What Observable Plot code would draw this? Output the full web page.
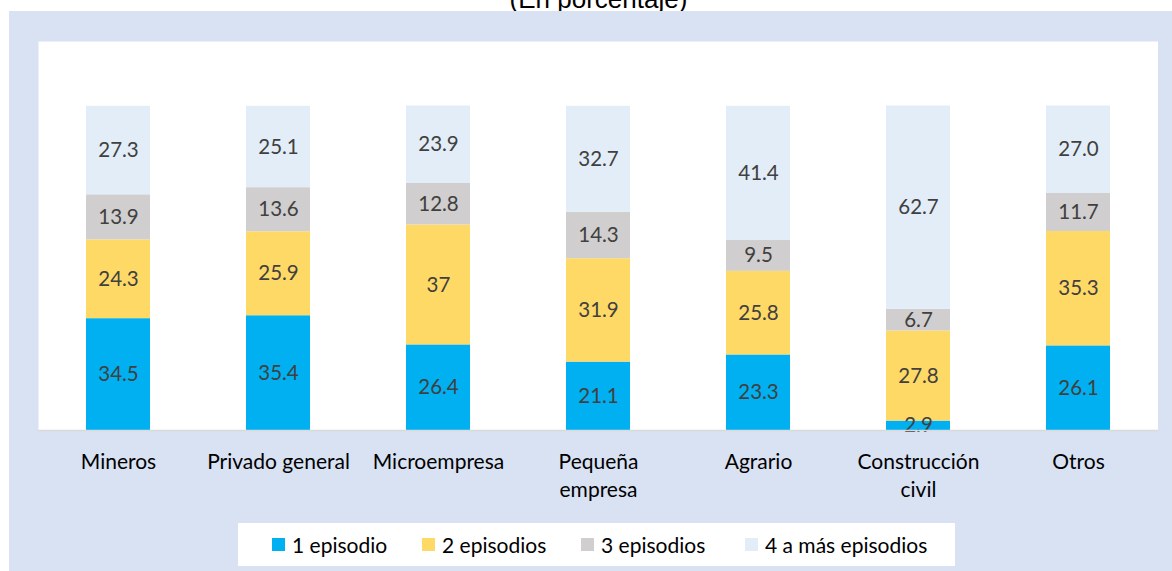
<!DOCTYPE html>
<html>
<head>
<meta charset="utf-8">
<script src="https://cdn.jsdelivr.net/npm/d3@7"></script>
<script src="https://cdn.jsdelivr.net/npm/@observablehq/plot@0.6"></script>
<style>
  html, body { margin: 0; padding: 0; background: #ffffff; }
  #wrap { position: relative; width: 1172px; height: 571px; overflow: hidden; background: #ffffff; font-family: Lato, "Noto Sans", sans-serif; }
  #title { position: absolute; left: 0; width: 1197px; top: -16px; line-height: 30px; text-align: center; font-family: "Liberation Sans", Arial, sans-serif; font-size: 26px; color: #000; }
  #band { position: absolute; left: 9px; top: 11px; width: 1163px; height: 560px; background: #D9E2F3; }
  #chart { position: absolute; left: 38px; top: 41px; }
  #legend { position: absolute; left: 238px; top: 523px; width: 717px; height: 43px; background: #ffffff; font-size: 21px; color: #000; }
  .item { position: absolute; top: 0; height: 43px; display: flex; align-items: center; }
  .sw { width: 13px; height: 13px; margin-right: 7px; }
</style>
</head>
<body>
<div id="wrap">
  <div id="title">(En porcentaje)</div>
  <div id="band"></div>
  <div id="chart"></div>
  <div id="legend"></div>
</div>
<script>
const categories = ["Mineros", "Privado general", "Microempresa", "Pequeña empresa", "Agrario", "Construcción civil", "Otros"];
const tickLabels = ["Mineros", "Privado general", "Microempresa", "Pequeña\nempresa", "Agrario", "Construcción\ncivil", "Otros"];
const series = ["1 episodio", "2 episodios", "3 episodios", "4 a más episodios"];
const colors = ["#00B0F0", "#FFD966", "#D0CECE", "#E2EDF8"];
const episodio1 = ["34.5", "35.4", "26.4", "21.1", "23.3", "2.9", "26.1"];
const episodios2 = ["24.3", "25.9", "37", "31.9", "25.8", "27.8", "35.3"];
const episodios3 = ["13.9", "13.6", "12.8", "14.3", "9.5", "6.7", "11.7"];
const episodios4 = ["27.3", "25.1", "23.9", "32.7", "41.4", "62.7", "27.0"];
const yDomain = [0, 120];

const seriesValues = [episodio1, episodios2, episodios3, episodios4];
const data = [];
seriesValues.forEach((vals, si) => {
  vals.forEach((v, ci) => {
    data.push({ cat: categories[ci], serie: series[si], value: +v, label: v });
  });
});
const tickMap = new Map(categories.map((c, i) => [c, tickLabels[i]]));

const plot = Plot.plot({
  width: 1120,
  height: 475,
  marginTop: 0,
  marginLeft: 0,
  marginRight: 0,
  marginBottom: 86,
  style: { background: "transparent", fontFamily: "Lato, 'Noto Sans', sans-serif" },
  x: { domain: categories, paddingInner: 0.6, paddingOuter: 0.3, label: null },
  y: { domain: yDomain, axis: null },
  color: { domain: series, range: colors },
  marks: [
    Plot.frame({ fill: "#ffffff", stroke: null }),
    Plot.barY(data, Plot.stackY({ x: "cat", y: "value", z: "serie", fill: "serie", order: series })),
    Plot.textY(data, Plot.stackY({ x: "cat", y: "value", z: "serie", order: series, text: "label", fill: "#404040", fontSize: 20.5 })),
    Plot.ruleY([0], { stroke: "#D9D9D9", strokeWidth: 1.5 }),
    Plot.axisX({ tickSize: 0, tickPadding: 19, fontSize: 21, lineHeight: 1.33, fill: "#000", tickFormat: d => tickMap.get(d), label: null })
  ]
});
document.getElementById("chart").appendChild(plot);

const legend = document.getElementById("legend");
const itemLeft = [34, 184, 343, 507];
series.forEach((s, i) => {
  const it = document.createElement("div");
  it.className = "item";
  it.style.left = itemLeft[i] + "px";
  const sw = document.createElement("div");
  sw.className = "sw";
  sw.style.background = colors[i];
  const tx = document.createElement("span");
  tx.textContent = s;
  it.appendChild(sw);
  it.appendChild(tx);
  legend.appendChild(it);
});
</script>
</body>
</html>
